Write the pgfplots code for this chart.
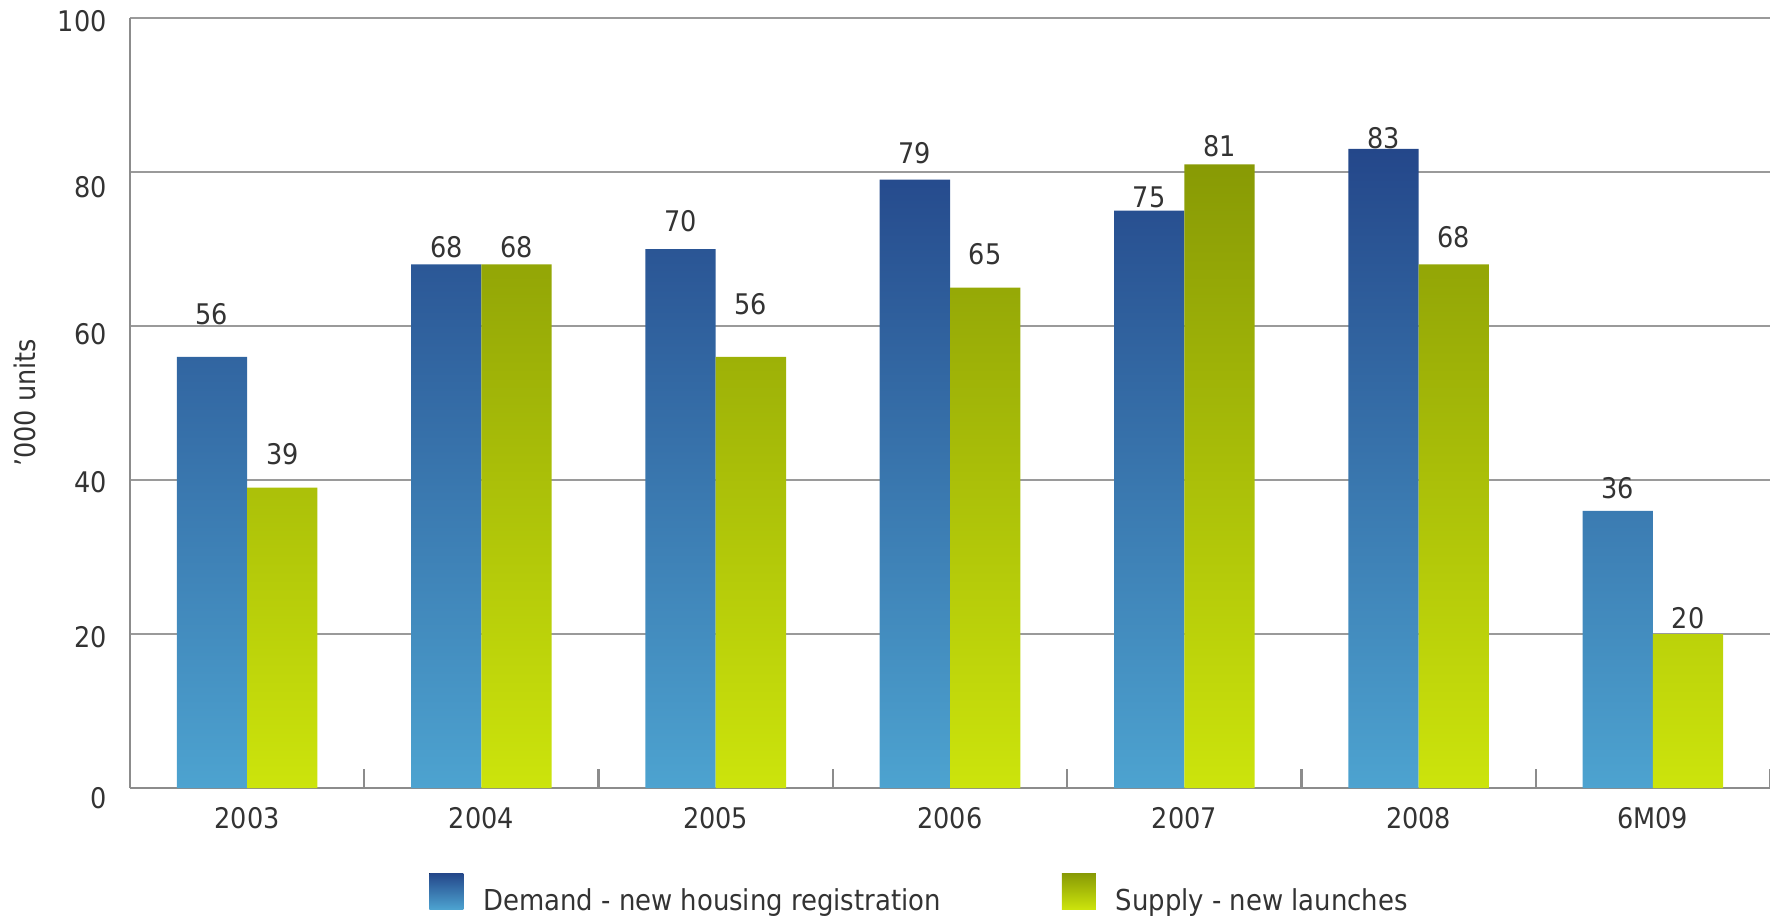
\documentclass[border=0pt]{standalone}
\usepackage{pgfplots}
\pgfplotsset{compat=1.18}
\usepackage{fontspec}
\setmainfont{DejaVu Sans Condensed}
\definecolor{txt}{HTML}{333333}
\definecolor{axgray}{HTML}{8C8C8C}
\definecolor{gridgray}{HTML}{9A9A9A}
\definecolor{demTop}{HTML}{24478A}
\definecolor{demBot}{HTML}{4DA3D0}
\definecolor{supTop}{HTML}{889A05}
\definecolor{supBot}{HTML}{CCE40C}
\pgfplotsset{sqlegend/.style={legend image code/.code={\fill[##1] (0pt,-4pt) rectangle (17pt,14pt);}}}
\begin{document}
\fontsize{14.2pt}{17pt}\selectfont
\begin{tikzpicture}
\useasboundingbox (-65pt,-65pt) rectangle (820pt,394pt);
\begin{axis}[
  scale only axis,
  width=820pt, height=385pt,
  xmin=-0.5, xmax=6.5, ymin=0, ymax=100,
  clip=false,
  axis x line*=bottom, axis y line*=left,
  axis line style={-, draw=axgray, line width=1.2pt},
  xtick={0,...,6},
  xticklabels={2003,2004,2005,2006,2007,2008,6M09},
  minor xtick={0.5,1.5,...,6.5},
  major tick length=0pt,
  minor tick length=9.5pt,
  tick align=inside,
  minor x tick style={draw=axgray, line width=1.2pt},
  ytick={0,20,...,100},
  yticklabels={
    \raisebox{-10.15pt}[0pt][0pt]{0},
    \raisebox{-6.65pt}[0pt][0pt]{20},
    \raisebox{-6.15pt}[0pt][0pt]{40},
    \raisebox{-9.15pt}[0pt][0pt]{60},
    \raisebox{-12.65pt}[0pt][0pt]{80},
    \raisebox{-6.9pt}[0pt][0pt]{100}},
  ytick style={draw=none},
  ymajorgrids,
  grid style={draw=gridgray, line width=1pt},
  yticklabel style={anchor=east, inner sep=0pt, xshift=-11.5pt, text=txt},
  xticklabel style={anchor=north, inner sep=0pt, yshift=-9.4pt, text=txt},
  every axis y label/.style={at={(axis description cs:-0.064,0.5)}, rotate=90, anchor=center, text=txt},
  ylabel={’000 units},
  legend columns=2,
  legend style={at={(axis description cs:0.1823,-0.1374)}, anchor=west, draw=none, fill=none,
    inner sep=0pt, nodes={inner sep=0pt, text=txt}, font=\fontsize{14.4pt}{17pt}\selectfont,
    /tikz/every odd column/.append style={column sep=10pt},
    /tikz/every even column/.append style={column sep=60.5pt}},
]
\addplot[ybar, bar width=0.3, bar shift=-0.15, draw=none, top color=demTop, bottom color=demBot, sqlegend]
  coordinates {(0,56) (1,68) (2,70) (3,79) (4,75) (5,83) (6,36)};
\addlegendentry{Demand - new housing registration}
\addplot[ybar, bar width=0.3, bar shift=0.15, draw=none, top color=supTop, bottom color=supBot, sqlegend]
  coordinates {(0,39) (1,68) (2,56) (3,65) (4,81) (5,68) (6,20)};
\addlegendentry{Supply - new launches}
% value labels
\addplot[forget plot, draw=none, mark=none, nodes near coords, point meta=explicit symbolic,
  nodes near coords style={anchor=center, inner sep=0pt, text=txt}]
  table[meta=v] {
x y v
-0.15 61.5 56
0.85 70.3 68
1.85 73.6 70
2.85 82.5 79
3.85 76.7 75
4.85 84.4 83
5.85 38.9 36
};
\addplot[forget plot, draw=none, mark=none, nodes near coords, point meta=explicit symbolic,
  nodes near coords style={anchor=center, inner sep=0pt, text=txt}]
  table[meta=v] {
x y v
0.15 43.3 39
1.15 70.3 68
2.15 62.8 56
3.15 69.3 65
4.15 83.3 81
5.15 71.5 68
6.15 22.0 20
};
\end{axis}
\end{tikzpicture}
\end{document}
